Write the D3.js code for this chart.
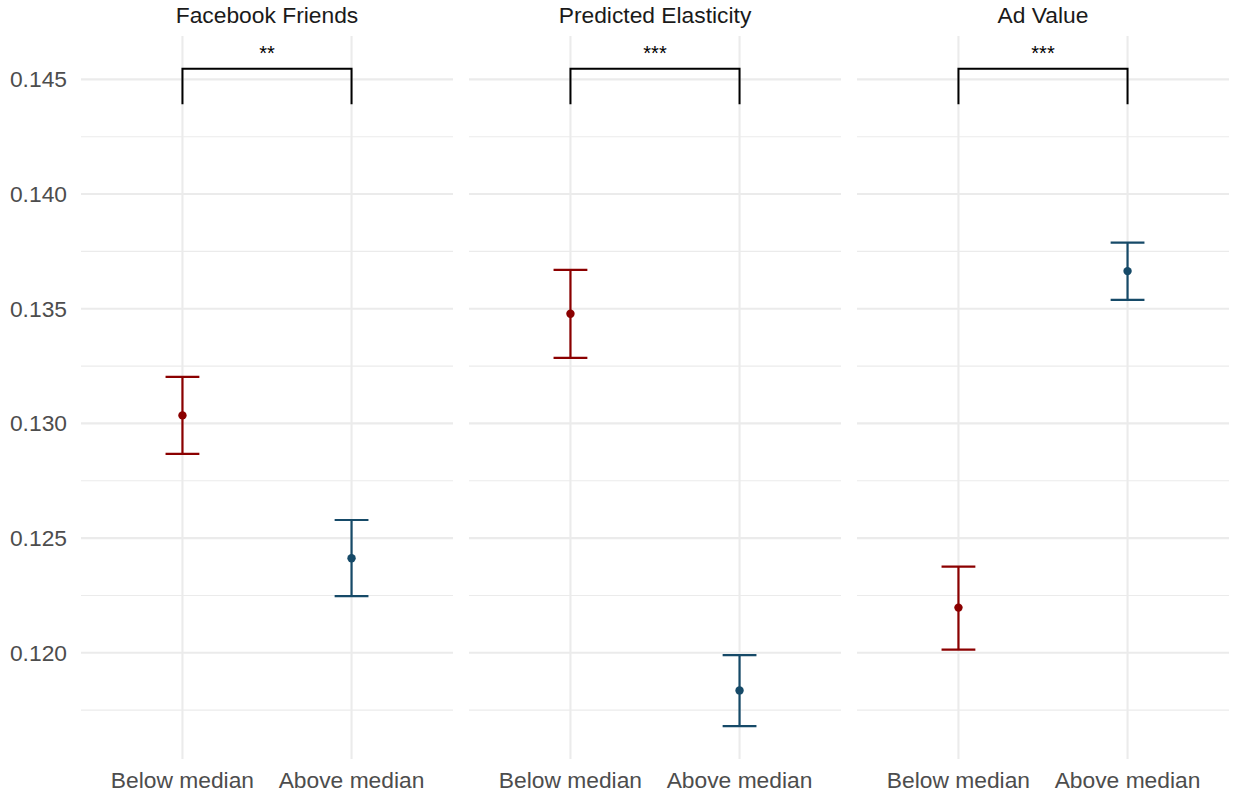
<!DOCTYPE html>
<html>
<head>
<meta charset="utf-8">
<script src="https://cdn.jsdelivr.net/npm/d3@7"></script>
<style>
  html, body { margin: 0; padding: 0; background: #fff; }
  svg { display: block; font-family: "Liberation Sans", Arial, Helvetica, sans-serif; }
</style>
</head>
<body>
<svg id="chart" width="1233" height="796"></svg>
<script>
// Facets, groups and the estimated means with their confidence bounds
const facets = ["Facebook Friends", "Predicted Elasticity", "Ad Value"];
const groups = ["Below median", "Above median"];
const means = [[0.13035, 0.12412], [0.13478, 0.11836], [0.12197, 0.13664]];
const lower = [[0.12867, 0.12247], [0.13286, 0.11680], [0.12014, 0.13539]];
const upper = [[0.13203, 0.12579], [0.13669, 0.11990], [0.12376, 0.13788]];
const stars = ["**", "***", "***"];
const bracketTop = 0.14546;
const bracketLeg = 0.14391;
const yTicks = [0.120, 0.125, 0.130, 0.135, 0.140, 0.145];
const yMinor = [0.1175, 0.1225, 0.1275, 0.1325, 0.1375, 0.1425];
const groupColors = ["#8B0000", "#164A68"];

const svg = d3.select("#chart");
const panelTop = 36, panelBottom = 759;
const panelLefts = [81, 469, 857];
const panelWidth = 372;
const textSize = 22.8;

const y = d3.scaleLinear().domain([0.11537, 0.14689]).range([panelBottom, panelTop]);
const fmt = d3.format(".3f");

// y-axis tick labels (left of the first panel only)
svg.append("g").selectAll("text").data(yTicks).join("text")
  .attr("x", 67).attr("y", d => y(d)).attr("dy", "0.35em")
  .attr("text-anchor", "end").attr("fill", "#4D4D4D").attr("font-size", textSize)
  .text(d => fmt(d));

facets.forEach((name, i) => {
  const x0 = panelLefts[i];
  const x = d3.scalePoint().domain(groups).range([x0, x0 + panelWidth]).padding(0.6);
  const step = x.step();
  const g = svg.append("g");

  // minor grid
  g.append("g").selectAll("line").data(yMinor).join("line")
    .attr("x1", x0).attr("x2", x0 + panelWidth)
    .attr("y1", d => y(d)).attr("y2", d => y(d))
    .attr("stroke", "#EBEBEB").attr("stroke-width", 1.1);
  // major grid
  g.append("g").selectAll("line").data(yTicks).join("line")
    .attr("x1", x0).attr("x2", x0 + panelWidth)
    .attr("y1", d => y(d)).attr("y2", d => y(d))
    .attr("stroke", "#EBEBEB").attr("stroke-width", 2.1);
  g.append("g").selectAll("line").data(groups).join("line")
    .attr("x1", d => x(d)).attr("x2", d => x(d))
    .attr("y1", panelTop).attr("y2", panelBottom)
    .attr("stroke", "#EBEBEB").attr("stroke-width", 2.1);

  // facet title
  svg.append("text")
    .attr("x", x0 + panelWidth / 2).attr("y", 23)
    .attr("text-anchor", "middle").attr("fill", "#1A1A1A").attr("font-size", textSize)
    .text(name);

  // x tick labels
  g.append("g").selectAll("text").data(groups).join("text")
    .attr("x", d => x(d)).attr("y", 788)
    .attr("text-anchor", "middle").attr("fill", "#4D4D4D").attr("font-size", textSize)
    .text(d => d);

  // error bars and points
  const capHalf = step * 0.1;
  groups.forEach((grp, j) => {
    const cx = x(grp);
    const col = groupColors[j];
    const eb = g.append("g").attr("stroke", col).attr("stroke-width", 2.2).attr("fill", "none");
    eb.append("line").attr("x1", cx).attr("x2", cx)
      .attr("y1", y(lower[i][j])).attr("y2", y(upper[i][j]));
    eb.append("line").attr("x1", cx - capHalf).attr("x2", cx + capHalf)
      .attr("y1", y(upper[i][j])).attr("y2", y(upper[i][j]));
    eb.append("line").attr("x1", cx - capHalf).attr("x2", cx + capHalf)
      .attr("y1", y(lower[i][j])).attr("y2", y(lower[i][j]));
    g.append("circle").attr("cx", cx).attr("cy", y(means[i][j]))
      .attr("r", 4.2).attr("fill", col);
  });

  // significance bracket
  const xa = x(groups[0]), xb = x(groups[1]);
  g.append("path")
    .attr("d", d3.line()([[xa, y(bracketLeg)], [xa, y(bracketTop)], [xb, y(bracketTop)], [xb, y(bracketLeg)]]))
    .attr("fill", "none").attr("stroke", "#000").attr("stroke-width", 2);
  g.append("text")
    .attr("x", (xa + xb) / 2).attr("y", 60)
    .attr("text-anchor", "middle").attr("fill", "#000").attr("font-size", 20)
    .text(stars[i]);
});
</script>
</body>
</html>
